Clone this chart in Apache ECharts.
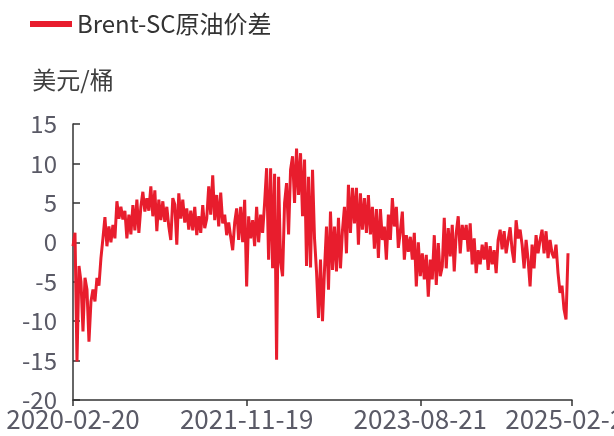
<!DOCTYPE html>
<html>
<head>
<meta charset="utf-8">
<script src="https://cdn.jsdelivr.net/npm/echarts@6/dist/echarts.min.js"></script>
<style>
  html, body { margin: 0; padding: 0; background: #fff; }
  #spread { width: 614px; height: 436px; }
</style>
</head>
<body>
<div id="spread"></div>
<script>
// 坐标轴上显示的日期及其在序列中的位置
var labelDates = ['2020-02-20', '2021-11-19', '2023-08-21', '2025-02-21']
var labelIndex = [0, 87, 174, 250]

// Brent-SC 原油价差（美元/桶）
var spreadValues = [
  -0.5, 1.2, -15.1, -3, -5, -11.3, -4.5, -6, -12.6, -7.5,
  -6, -7.5, -4.5, -5.5, -2, 0.5, 3.2, -0.5, 2, 0,
  2.2, 0.5, 5.2, 3, 4.5, 2.9, 4, 0.5, 3.5, 1,
  4.7, 1.5, 5.4, 1.2, 4.5, 6.4, 3.9, 5.6, 4, 7.1,
  3.3, 6.6,
  1.4, 5.4, 2.8, 5.2, 2.6, 4.5, 2, 0.3, 5.6, 4.8,
  -0.3, 6.2, 3, 5.4, 2.5, 4.3, 1.6, 4, 1.5, 4.5,
  0.9, 3.3, 1.2, 4.7, 1.8, 3, 7.1, 3.5, 8.5, 2.8,
  6, 2, 6.3, 2.4, 3.5, 0.9, 2.5, 0.7, -1, 2.5,
  4.3,
  0.3, 4.5, 0, 5.4, -5.6, 3.3, 0.5, 2.8, -0.5, 4.5,
  0, 3.5, 1.2, 5, 9.4, -2.2, 9.4, -3.3, 8.7, -14.9,
  8.3, -2.5, -4.3, 5, 7.5, 1, 9.2, 10.9, 5, 11.9,
  6, 11.3, 3.3, 10.5, -3, 8.3, -3.2, 9.2, 0.5, -3.7,
  -9.6,
  -2.2, -10, -3.5, 2, -6, 3.9, -3.5, 2, -3.7, 3.1,
  -3.3, 1.5, 4.5, -1.4, 7.3, 1.2, 6.9, 2.4, 6.9, -0.3,
  6.2, 1.6, 5.6, 1.2, 6, 1, 4.5, -0.8, 4.2, -2,
  4.2, 0.3, 2, -2.2, 3.5, 0.3, 5.6, 2, 4.5, -0.7,
  1.4, 3.9,
  -2.2, 0.9, -1.2, 0.7, -2.2, 1.2, -5.6, 0, -4.3, -1.4,
  -4.7, -1.6, -6.9, -2.2, -4.7, 0.9, -5.4, -0.1, -4.3, -3.1,
  3.1, -3.3, 1.8, -1.8, 2.2, -3.7, 1.2, 3.3, -1.4, 2.2,
  0.3, 2.2, -1.2, 2.4, -2.8, 0.5, -3.9, -1, -2.8, -0.3,
  -2.2,
  0, -3.5, -0.5, -2.8, -1, -3.9, 0.3, 1.6, -0.9, 1.4,
  -1.4, 0.3, 1.9, -1, -2.6, 2.8, 0.5, 1.6, -0.3, -3.3,
  0.3, -2.2, -5.6, -0.3, -3.3, 0.9, -1.4, 0.3, 1.6, -1.4,
  1.4, -2, 0.3, -1.4, -2, -0.3, -3.9, -6.4, -5.5, -8.5,
  -9.8, -1.4,
  null, null
]

var yTicks = { min: -20, max: 15, step: 5 }

// 把相邻两个标注日期之间的类目日期补齐（只是类目名）
function buildDates () {
  var out = []
  for (var k = 0; k < labelDates.length - 1; k++) {
    var d0 = new Date(labelDates[k] + 'T00:00:00Z').getTime()
    var d1 = new Date(labelDates[k + 1] + 'T00:00:00Z').getTime()
    var n = labelIndex[k + 1] - labelIndex[k]
    for (var j = 0; j < n; j++) {
      var t = d0 + Math.round((d1 - d0) / 86400000 * j / n) * 86400000
      out.push(new Date(t).toISOString().slice(0, 10))
    }
  }
  out.push(labelDates[labelDates.length - 1])
  return out
}

var categories = buildDates()
var font = '"Noto Sans CJK SC", "Noto Sans", sans-serif'

var chart = echarts.init(document.getElementById('spread'))
var showAt = function (index) {
  return labelIndex.indexOf(index) !== -1
}

var options = {
  animation: false,
  textStyle: { fontFamily: font },
  legend: {
    left: 25,
    top: 7,
    icon: 'rect',
    itemWidth: 42,
    itemHeight: 6,
    itemGap: 10,
    textStyle: {
      fontSize: 24,
      color: '#333',
      fontFamily: font
    },
    data: ['Brent-SC原油价差']
  },
  grid: {
    left: 73,
    right: 42,
    top: 124,
    bottom: 36,
    containLabel: false,
    outerBoundsMode: 'none'
  },
  xAxis: {
    type: 'category',
    boundaryGap: false,
    data: categories,
    axisLine: { // 坐标轴线
      onZero: false,
      lineStyle: { color: '#333', width: 1.5 }
    },
    axisTick: {
      show: true,
      length: 6,
      interval: showAt,
      lineStyle: { color: '#333', width: 1.5 }
    },
    axisLabel: {
      interval: showAt,
      fontSize: 26,
      color: '#5a5a66',
      margin: 6,
      hideOverlap: false,
      fontFamily: font
    },
    splitLine: { show: false }
  },
  yAxis: {
    type: 'value',
    min: yTicks.min,
    max: yTicks.max,
    interval: yTicks.step,
    name: '美元/桶',
    nameLocation: 'end',
    nameGap: 32,
    nameTextStyle: {
      fontSize: 24,
      color: '#404040',
      fontFamily: font
    },
    axisLine: {
      show: true,
      lineStyle: { color: '#333', width: 1.5 }
    },
    axisTick: {
      show: true,
      inside: true,
      length: 7,
      lineStyle: { color: '#333', width: 1.5 }
    },
    axisLabel: {
      fontSize: 24,
      color: '#5a5a66',
      margin: 16,
      fontFamily: font
    },
    splitLine: { show: false }
  },
  series: [{
    name: 'Brent-SC原油价差',
    type: 'line',
    symbol: 'none',
    connectNulls: false,
    lineStyle: { color: '#e81d2d', width: 3 },
    itemStyle: { color: '#e81d2d' },
    data: spreadValues
  }]
}

chart.setOption(options)
window.addEventListener('resize', function () {
  chart.resize()
})
</script>
</body>
</html>
